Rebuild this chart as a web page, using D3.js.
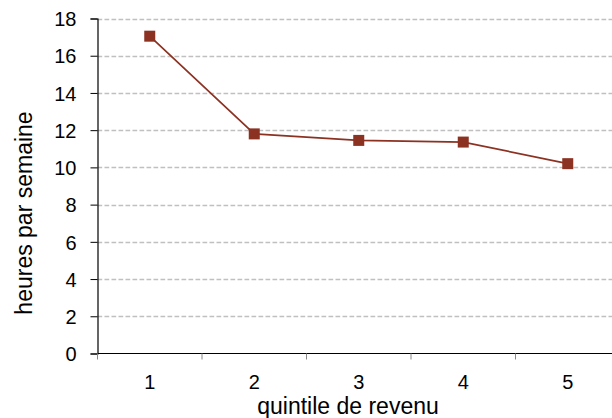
<!DOCTYPE html>
<html><head><meta charset="utf-8">
<script src="https://cdn.jsdelivr.net/npm/d3@7"></script>
<style>body{margin:0;background:#fff}svg{display:block}text{font-family:"Liberation Sans",Arial,sans-serif;fill:#000}</style>
</head><body><svg id="c" width="612" height="418"></svg>
<script>
const categories = ["1","2","3","4","5"];
const values = [17.05, 11.8, 11.45, 11.36, 10.2];
const yTicks = [0,2,4,6,8,10,12,14,16,18];
const xTitle = "quintile de revenu";
const yTitle = "heures par semaine";

(function(){
const svg = d3.select("#c");
const mLeft = 97.5, mRight = 620, mTop = 18.5, mBottom = 353.5;
const x = d3.scaleBand().domain(categories).range([mLeft, mRight]);
const y = d3.scaleLinear().domain([0,18]).range([mBottom, mTop]);
const color = "#8c3223";
const fs = 20, ft = 23;
const ff = '"Liberation Sans",Arial,sans-serif';

// grid
svg.append("g").selectAll("line").data(yTicks.filter(d=>d>0)).join("line")
  .attr("x1", mLeft).attr("x2", 612).attr("y1", d=>Math.round(y(d))+0.5).attr("y2", d=>Math.round(y(d))+0.5)
  .attr("stroke", "#c0c0c0").attr("stroke-width", 1.4).attr("stroke-dasharray", "4.7,2.3");

// y axis
const ya = svg.append("g").attr("transform", `translate(${mLeft},0)`)
  .call(d3.axisLeft(y).tickValues(yTicks).tickSize(7).tickPadding(14).tickFormat(d3.format("d")));
ya.select(".domain").attr("stroke", "#000").attr("stroke-width", 1.2);
ya.selectAll(".tick line").attr("stroke", "#000");
ya.selectAll("text").attr("font-size", fs).attr("dy", "0.36em").style("font-family", ff);

// x axis
const xa = svg.append("g").attr("transform", `translate(0,${mBottom})`)
  .call(d3.axisBottom(x).tickSize(0).tickPadding(21));
xa.select(".domain").remove();
xa.selectAll("text").attr("font-size", fs).style("font-family", ff);
svg.append("line").attr("x1", mLeft).attr("x2", 612).attr("y1", mBottom).attr("y2", mBottom)
  .attr("stroke", "#000").attr("stroke-width", 1.2);
const bounds = categories.map(c => x(c));
svg.append("g").selectAll("line").data(bounds).join("line")
  .attr("x1", d=>d).attr("x2", d=>d).attr("y1", mBottom).attr("y2", mBottom+6)
  .attr("stroke", "#888").attr("stroke-width", 1);

// line
const cx = c => x(c) + x.bandwidth()/2;
svg.append("path").datum(values)
  .attr("d", d3.line().x((d,i)=>cx(categories[i])).y(d=>y(d)))
  .attr("fill", "none").attr("stroke", color).attr("stroke-width", 1.7);
svg.append("g").selectAll("rect").data(values).join("rect")
  .attr("x", (d,i)=>cx(categories[i])-5.5).attr("y", d=>y(d)-5.5)
  .attr("width", 11).attr("height", 11).attr("fill", color);

// titles
svg.append("text").attr("x", 348).attr("y", 414).attr("text-anchor", "middle").attr("font-size", ft).text(xTitle);
svg.append("text").attr("transform", `translate(32,213) rotate(-90)`).attr("text-anchor", "middle").attr("font-size", ft).text(yTitle);
})();
</script></body></html>
